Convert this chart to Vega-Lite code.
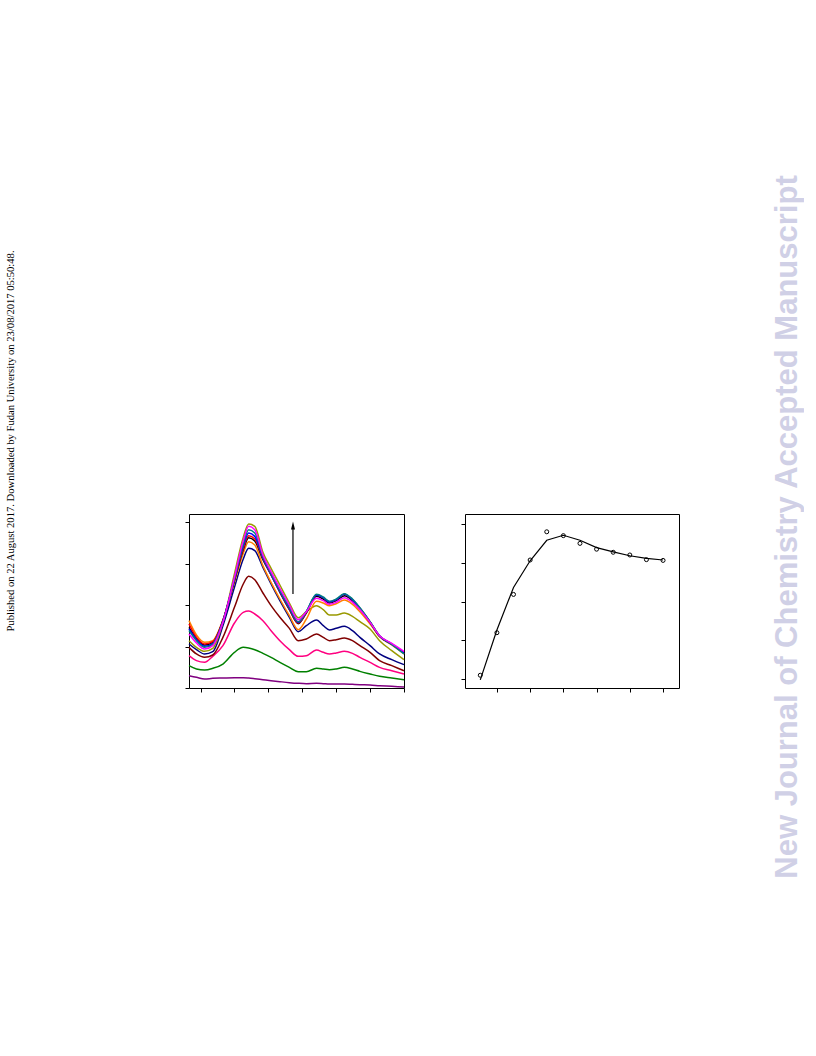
{
  "$schema": "https://vega.github.io/schema/vega-lite/v6.json",
  "padding": {"left": 5, "top": 174, "right": 0, "bottom": 0},
  "spacing": 52,
  "config": {
    "view": {"stroke": "black", "strokeWidth": 1},
    "axis": {"labels": false, "domain": false, "grid": false, "ticks": true, "tickColor": "black", "tickSize": 4, "tickWidth": 1, "title": null}
  },
  "hconcat": [
    {
      "width": 215,
      "height": 174,
      "title": {"text": "Published on 22 August 2017. Downloaded by Fudan University on 23/08/2017 05:50:48.", "orient": "left", "anchor": "middle", "offset": 168, "dx": 160, "font": "Liberation Serif", "fontSize": 10.6, "fontWeight": "normal", "color": "black"},
      "layer": [
        {
          "data": {"values": [
            {"nm": 233, "purple": 0.298, "green": 0.539, "deeppink": 0.780, "maroon": 0.981, "navy": 1.062, "olive": 1.142, "orange": 1.625, "black": 1.464, "red": 1.545, "blue": 1.424, "teal": 1.384, "magenta": 1.303},
            {"nm": 244, "purple": 0.257, "green": 0.459, "deeppink": 0.660, "maroon": 0.821, "navy": 0.925, "olive": 0.981, "orange": 1.279, "black": 1.199, "red": 1.223, "blue": 1.167, "teal": 1.142, "magenta": 1.086},
            {"nm": 256, "purple": 0.217, "green": 0.434, "deeppink": 0.619, "maroon": 0.740, "navy": 0.821, "olive": 0.885, "orange": 1.102, "black": 1.038, "red": 1.062, "blue": 1.006, "teal": 0.981, "magenta": 0.941},
            {"nm": 268, "purple": 0.233, "green": 0.475, "deeppink": 0.764, "maroon": 0.796, "navy": 0.877, "olive": 0.957, "orange": 1.142, "black": 1.102, "red": 1.118, "blue": 1.070, "teal": 1.054, "magenta": 1.022},
            {"nm": 283, "purple": 0.241, "green": 0.579, "deeppink": 1.022, "maroon": 1.223, "navy": 1.504, "olive": 1.585, "orange": 1.641, "black": 1.625, "red": 1.633, "blue": 1.617, "teal": 1.601, "magenta": 1.585},
            {"nm": 300, "purple": 0.249, "green": 0.861, "deeppink": 1.569, "maroon": 1.947, "navy": 2.430, "olive": 2.751, "orange": 2.550, "black": 2.590, "red": 2.615, "blue": 2.631, "teal": 2.647, "magenta": 2.671},
            {"nm": 313, "purple": 0.249, "green": 0.981, "deeppink": 1.826, "maroon": 2.510, "navy": 3.113, "olive": 3.636, "orange": 3.250, "black": 3.339, "red": 3.371, "blue": 3.419, "teal": 3.475, "magenta": 3.556},
            {"nm": 321, "purple": 0.241, "green": 0.965, "deeppink": 1.858, "maroon": 2.695, "navy": 3.371, "olive": 3.958, "orange": 3.532, "black": 3.628, "red": 3.677, "blue": 3.741, "teal": 3.821, "magenta": 3.902},
            {"nm": 330, "purple": 0.225, "green": 0.925, "deeppink": 1.786, "maroon": 2.615, "navy": 3.315, "olive": 3.902, "orange": 3.451, "black": 3.548, "red": 3.596, "blue": 3.660, "teal": 3.741, "magenta": 3.821},
            {"nm": 342, "purple": 0.201, "green": 0.837, "deeppink": 1.625, "maroon": 2.293, "navy": 2.912, "olive": 3.274, "orange": 2.953, "black": 3.097, "red": 3.130, "blue": 3.146, "teal": 3.178, "magenta": 3.210},
            {"nm": 354, "purple": 0.177, "green": 0.740, "deeppink": 1.384, "maroon": 1.987, "navy": 2.510, "olive": 2.888, "orange": 2.550, "black": 2.727, "red": 2.735, "blue": 2.743, "teal": 2.767, "magenta": 2.808},
            {"nm": 367, "purple": 0.153, "green": 0.619, "deeppink": 1.142, "maroon": 1.706, "navy": 2.108, "olive": 2.486, "orange": 2.148, "black": 2.309, "red": 2.325, "blue": 2.333, "teal": 2.357, "magenta": 2.405},
            {"nm": 381, "purple": 0.129, "green": 0.499, "deeppink": 0.925, "maroon": 1.440, "navy": 1.706, "olive": 2.051, "orange": 1.746, "black": 1.891, "red": 1.907, "blue": 1.923, "teal": 1.947, "magenta": 2.003},
            {"nm": 394, "purple": 0.113, "green": 0.394, "deeppink": 0.764, "maroon": 1.142, "navy": 1.360, "olive": 1.697, "orange": 1.408, "black": 1.553, "red": 1.569, "blue": 1.585, "teal": 1.601, "magenta": 1.649},
            {"nm": 406, "purple": 0.105, "green": 0.394, "deeppink": 0.780, "maroon": 1.183, "navy": 1.504, "olive": 1.842, "orange": 1.665, "black": 1.810, "red": 1.826, "blue": 1.842, "teal": 1.850, "magenta": 1.842},
            {"nm": 421, "purple": 0.113, "green": 0.475, "deeppink": 0.917, "maroon": 1.303, "navy": 1.641, "olive": 1.987, "orange": 2.092, "black": 2.212, "red": 2.245, "blue": 2.245, "teal": 2.261, "magenta": 2.164},
            {"nm": 431, "purple": 0.105, "green": 0.459, "deeppink": 0.861, "maroon": 1.223, "navy": 1.504, "olive": 1.891, "orange": 2.051, "black": 2.148, "red": 2.180, "blue": 2.180, "teal": 2.196, "magenta": 2.108},
            {"nm": 440, "purple": 0.097, "green": 0.442, "deeppink": 0.821, "maroon": 1.142, "navy": 1.400, "olive": 1.762, "orange": 1.987, "black": 2.051, "red": 2.076, "blue": 2.076, "teal": 2.092, "magenta": 2.019},
            {"nm": 450, "purple": 0.097, "green": 0.459, "deeppink": 0.845, "maroon": 1.167, "navy": 1.440, "olive": 1.762, "orange": 2.035, "black": 2.108, "red": 2.132, "blue": 2.132, "teal": 2.148, "magenta": 2.068},
            {"nm": 462, "purple": 0.097, "green": 0.499, "deeppink": 0.885, "maroon": 1.207, "navy": 1.488, "olive": 1.810, "orange": 2.124, "black": 2.228, "red": 2.261, "blue": 2.261, "teal": 2.277, "magenta": 2.180},
            {"nm": 474, "purple": 0.088, "green": 0.459, "deeppink": 0.837, "maroon": 1.142, "navy": 1.384, "olive": 1.730, "orange": 2.019, "black": 2.108, "red": 2.132, "blue": 2.132, "teal": 2.148, "magenta": 2.068},
            {"nm": 485, "purple": 0.080, "green": 0.402, "deeppink": 0.740, "maroon": 1.022, "navy": 1.223, "olive": 1.601, "orange": 1.842, "black": 1.907, "red": 1.923, "blue": 1.923, "teal": 1.939, "magenta": 1.891},
            {"nm": 500, "purple": 0.072, "green": 0.338, "deeppink": 0.619, "maroon": 0.861, "navy": 1.022, "olive": 1.424, "orange": 1.545, "black": 1.585, "red": 1.593, "blue": 1.593, "teal": 1.601, "magenta": 1.585},
            {"nm": 514, "purple": 0.056, "green": 0.282, "deeppink": 0.499, "maroon": 0.660, "navy": 0.821, "olive": 1.142, "orange": 1.239, "black": 1.247, "red": 1.255, "blue": 1.255, "teal": 1.263, "magenta": 1.263},
            {"nm": 532, "purple": 0.040, "green": 0.241, "deeppink": 0.418, "maroon": 0.539, "navy": 0.684, "olive": 0.901, "orange": 1.038, "black": 1.062, "red": 1.062, "blue": 1.054, "teal": 1.054, "magenta": 1.078},
            {"nm": 550, "purple": 0.024, "green": 0.201, "deeppink": 0.338, "maroon": 0.418, "navy": 0.563, "olive": 0.684, "orange": 0.821, "black": 0.861, "red": 0.861, "blue": 0.845, "teal": 0.821, "magenta": 0.885}
          ]},
          "transform": [{"fold": ["purple", "green", "deeppink", "maroon", "navy", "olive", "orange", "black", "red", "blue", "teal", "magenta"], "as": ["series", "A"]}],
          "mark": {"type": "line", "strokeWidth": 1.5, "interpolate": "monotone"},
          "encoding": {
            "x": {"field": "nm", "type": "quantitative", "scale": {"domain": [233, 550], "nice": false, "zero": false}, "axis": {"values": [250, 300, 350, 400, 450, 500, 550]}},
            "y": {"field": "A", "type": "quantitative", "scale": {"domain": [0, 4.2], "nice": false}, "axis": {"values": [0, 1, 2, 3, 4]}},
            "color": {"field": "series", "type": "nominal", "legend": null,
              "scale": {"domain": ["purple", "green", "deeppink", "maroon", "navy", "olive", "orange", "black", "red", "blue", "teal", "magenta"],
                        "range": ["#800080", "#008000", "#ff0080", "#800000", "#000080", "#999900", "#ff8000", "#000000", "#ff0000", "#0000ff", "#008080", "#ff00ff"]}}
          }
        },
        {
          "data": {"values": [{"nm": 386.3, "y1": 2.27, "y2": 3.9}]},
          "mark": {"type": "rule", "color": "black", "strokeWidth": 1.2},
          "encoding": {
            "x": {"field": "nm", "type": "quantitative", "axis": {"values": [250, 300, 350, 400, 450, 500, 550]}},
            "y": {"field": "y1", "type": "quantitative", "axis": {"values": [0, 1, 2, 3, 4]}},
            "y2": {"field": "y2"}
          }
        },
        {
          "data": {"values": [{"nm": 386.3, "y": 3.92}]},
          "mark": {"type": "point", "shape": "M0,-1L0.5,1L-0.5,1Z", "filled": true, "color": "black", "size": 64, "opacity": 1},
          "encoding": {
            "x": {"field": "nm", "type": "quantitative", "axis": {"values": [250, 300, 350, 400, 450, 500, 550]}},
            "y": {"field": "y", "type": "quantitative", "axis": {"values": [0, 1, 2, 3, 4]}}
          }
        }
      ]
    },
    {
      "width": 214,
      "height": 174,
      "title": {"text": "New Journal of Chemistry Accepted Manuscript", "orient": "right", "angle": -90, "anchor": "middle", "offset": 63, "dx": 74, "font": "Liberation Sans", "fontSize": 31, "fontWeight": "bold", "color": "#d0d0e6"},
      "data": {"values": [
        {"x": 0.5, "obs": 0.10, "fit": -0.02},
        {"x": 1.0, "obs": 1.20, "fit": 1.27},
        {"x": 1.5, "obs": 2.19, "fit": 2.37},
        {"x": 2.0, "obs": 3.08, "fit": 3.06},
        {"x": 2.5, "obs": 3.81, "fit": 3.59},
        {"x": 3.0, "obs": 3.71, "fit": 3.72},
        {"x": 3.5, "obs": 3.51, "fit": 3.59},
        {"x": 4.0, "obs": 3.36, "fit": 3.40},
        {"x": 4.5, "obs": 3.28, "fit": 3.29},
        {"x": 5.0, "obs": 3.21, "fit": 3.19},
        {"x": 5.5, "obs": 3.09, "fit": 3.12},
        {"x": 6.0, "obs": 3.07, "fit": 3.08}
      ]},
      "layer": [
        {
          "mark": {"type": "line", "color": "black", "strokeWidth": 1.2},
          "encoding": {
            "x": {"field": "x", "type": "quantitative", "scale": {"domain": [0.04, 6.48], "nice": false, "zero": false}, "axis": {"values": [1, 2, 3, 4, 5, 6]}},
            "y": {"field": "fit", "type": "quantitative", "scale": {"domain": [-0.23, 4.27], "nice": false, "zero": false}, "axis": {"values": [0, 1, 2, 3, 4]}}
          }
        },
        {
          "mark": {"type": "point", "shape": "circle", "color": "black", "size": 16, "strokeWidth": 1, "opacity": 1},
          "encoding": {
            "x": {"field": "x", "type": "quantitative", "axis": {"values": [1, 2, 3, 4, 5, 6]}},
            "y": {"field": "obs", "type": "quantitative", "axis": {"values": [0, 1, 2, 3, 4]}}
          }
        }
      ]
    }
  ]
}
